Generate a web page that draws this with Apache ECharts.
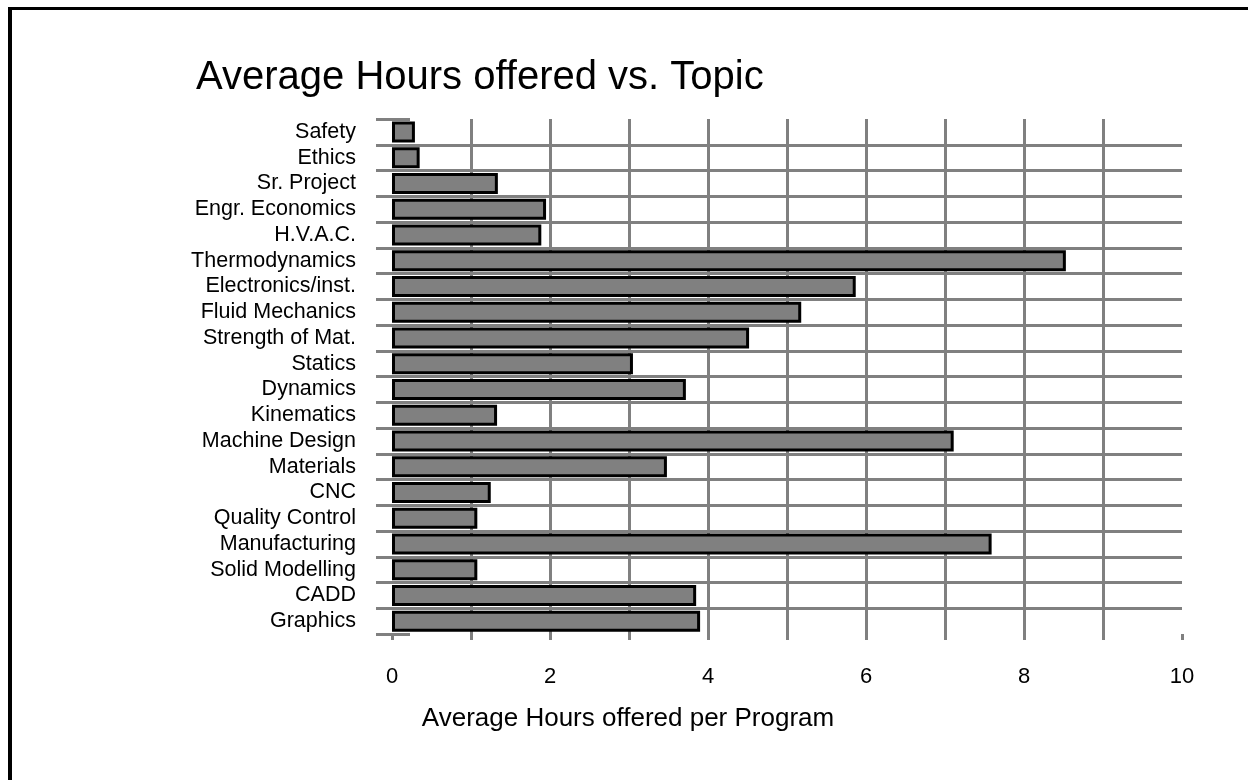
<!DOCTYPE html>
<html>
<head>
<meta charset="utf-8">
<script src="https://cdn.jsdelivr.net/npm/echarts@6/dist/echarts.min.js"></script>
<style>
  body { margin: 0; background: #fff; }
  #main { width: 1248px; height: 780px; }
  /* frame round the picture, only top and left show */
  #frame { position: absolute; left: 8px; top: 7px; width: 1300px; height: 800px;
           border-left: 4px solid #000; border-top: 3px solid #000; pointer-events: none; }
</style>
</head>
<body>
<div id="main"></div>
<div id="frame"></div>
<script>
var topics = ['Safety', 'Ethics', 'Sr. Project', 'Engr. Economics', 'H.V.A.C.',
  'Thermodynamics', 'Electronics/inst.', 'Fluid Mechanics', 'Strength of Mat.', 'Statics',
  'Dynamics', 'Kinematics', 'Machine Design', 'Materials', 'CNC',
  'Quality Control', 'Manufacturing', 'Solid Modelling', 'CADD', 'Graphics'];
var hours = [0.29, 0.35, 1.34, 1.95, 1.89,
  8.53, 5.87, 5.18, 4.52, 3.05,
  3.72, 1.33, 7.11, 3.48, 1.25,
  1.08, 7.59, 1.08, 3.85, 3.90];
var xTicks = [0, 2, 4, 6, 8, 10];

var font = 'Liberation Sans, Arial, sans-serif';
var grey = '#808080';

var myChart = echarts.init(document.getElementById('main'));

var option = {
  animation: false,
  backgroundColor: '#fff',
  title: {
    text: 'Average Hours offered vs. Topic',
    left: 191,
    top: 53,
    textStyle: { fontFamily: font, fontSize: 40, fontWeight: 'normal', color: '#000' }
  },
  grid: { left: 392, right: 66, top: 119, bottom: 146, containLabel: false },
  xAxis: {
    type: 'value',
    min: 0,
    max: 10,
    interval: 1,
    name: 'Average Hours offered per Program',
    nameLocation: 'middle',
    nameGap: 72,
    nameTextStyle: { fontFamily: font, fontSize: 26, color: '#000', padding: [0, 318, 0, 0] },
    axisLine: { show: false },
    axisTick: { show: true, length: 6, lineStyle: { color: grey, width: 3 } },
    axisLabel: {
      margin: 32,
      fontFamily: font, fontSize: 22, color: '#000',
      formatter: function (v) { return xTicks.indexOf(v) >= 0 ? String(v) : ''; }
    },
    splitLine: { show: true, showMinLine: false, showMaxLine: false,
                 lineStyle: { color: grey, width: 3 } }
  },
  yAxis: [{
    type: 'category',
    data: topics,
    inverse: true,
    axisLine: { show: false },
    axisTick: { show: true, interval: 0, length: 16, lineStyle: { color: grey, width: 3 } },
    axisLabel: { interval: 0, margin: 36, fontFamily: font, fontSize: 21.5, color: '#000' },
    splitLine: { show: true, interval: 0, showMinLine: false, showMaxLine: false,
                 lineStyle: { color: grey, width: 3 } }
  }, {
    type: 'category',
    data: topics,
    inverse: true,
    position: 'left',
    axisLine: { show: false },
    axisTick: { show: true, interval: 0, inside: true, length: 18, lineStyle: { color: grey, width: 3 } },
    axisLabel: { show: false },
    splitLine: { show: false }
  }],
  series: [{
    type: 'bar',
    data: hours,
    barWidth: 21,
    itemStyle: { color: '#808080', borderColor: '#000', borderWidth: 3 }
  }]
};

myChart.setOption(option);
</script>
</body>
</html>
